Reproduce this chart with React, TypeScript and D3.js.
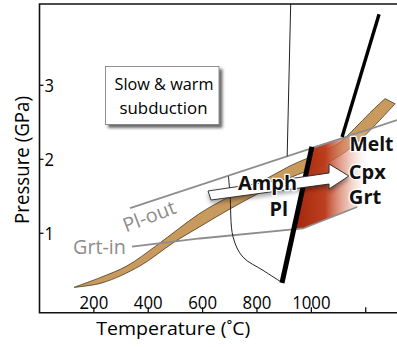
import React from "react";
import * as d3 from "d3";

const W = 397;
const H = 347;
const PLOT = { left: 39.5, right: 397, top: 4, bottom: 312.7 };

// Axis ticks
const tempTicks = [200, 400, 600, 800, 1000, 1200];
const tempTickLabels = ["200", "400", "600", "800", "1000", ""];
const pressureTicks = [1, 2, 3];
const pressureTickLabels = ["1", "2", "3"];

// Slab-top geotherm band (T °C, P GPa)
const geothermUpper: [number, number][] = [
  [127, 0.27], [222, 0.4], [322, 0.56], [432, 0.84], [590, 1.27], [701, 1.5],
  [811, 1.69], [921, 1.91], [1032, 2.09], [1105, 2.23], [1160, 2.42], [1216, 2.63], [1271, 2.82],
];
const geothermLower: [number, number][] = [
  [127, 0.27], [230, 0.33], [370, 0.56], [491, 0.87], [590, 1.09], [701, 1.33],
  [811, 1.55], [921, 1.75], [1032, 1.91], [1105, 2.05], [1179, 2.26], [1252, 2.53], [1308, 2.75],
];

// Reaction lines
const plOut: [number, number][] = [[333, 1.34], [1315, 2.53]];
const grtIn: [number, number][] = [[340, 0.82], [590, 0.93], [969, 1.065], [1168, 1.355]];

// Melt zone (Melt + Cpx + Grt)
const meltZone: [number, number][] = [
  [999, 2.16], [1223, 2.42], [1172, 1.355], [969, 1.065], [943, 1.05],
];

// Solidi
const wetSolidusHigh: [number, number][] = [[1249, 3.96], [1113, 2.3]];
const wetSolidusLow: [number, number][] = [[1002, 2.17], [892, 0.33]];
const thinVertical: [number, number][] = [[924, 4.1], [911, 2.04]];
const amphBoundary: [number, number][] = [
  [695, 1.77], [701, 1.52], [712, 0.95], [748, 0.68], [822, 0.5], [892, 0.335],
];

// P-T path arrow
const pathArrow: [number, number][] = [
  [620, 1.572], [631, 1.45], [1065, 1.666], [1065, 1.599], [1138, 1.774], [1065, 1.937], [1065, 1.815],
];

const FONT = "'Open Sans', 'Noto Sans', sans-serif";

export default function App() {
  const x = d3.scaleLinear().domain([0, 1315]).range([PLOT.left, PLOT.right]);
  const y = d3.scaleLinear().domain([0, 4]).range([307.3, 11.3]);

  const line = d3.line<[number, number]>().x((d) => x(d[0])).y((d) => y(d[1]));
  const curve = d3
    .line<[number, number]>()
    .x((d) => x(d[0]))
    .y((d) => y(d[1]))
    .curve(d3.curveCatmullRom.alpha(0.5));

  const upperPath = curve(geothermUpper) || "";
  const lowerPath = curve([...geothermLower].reverse()) || "";
  const bandPath = upperPath + "L" + lowerPath.slice(1) + "Z";

  const meltPath = line(meltZone) + "Z";
  const arrowPath = line(pathArrow) + "Z";

  const gray = "#8d8d8d";
  const fit = { lengthAdjust: "spacingAndGlyphs" as const };

  return (
    <svg
      width={W}
      height={H}
      style={{ position: "absolute", left: 0, top: 0, background: "#fff" }}
      fontFamily={FONT}
    >
      <defs>
        <linearGradient id="meltGrad" gradientUnits="userSpaceOnUse" x1={300} y1={0} x2={372} y2={0}>
          <stop offset="0" stopColor="#a82b0f" stopOpacity={1} />
          <stop offset="0.35" stopColor="#bb3a1a" stopOpacity={0.97} />
          <stop offset="0.65" stopColor="#e0907a" stopOpacity={0.6} />
          <stop offset="1" stopColor="#ffffff" stopOpacity={0} />
        </linearGradient>
        <filter id="boxShadow" x="-20%" y="-20%" width="150%" height="160%">
          <feDropShadow dx={3} dy={3} stdDeviation={1.6} floodColor="#000" floodOpacity={0.6} />
        </filter>
        <filter id="arrowShadow" x="-20%" y="-50%" width="140%" height="250%">
          <feDropShadow dx={0} dy={3} stdDeviation={2.2} floodColor="#000" floodOpacity={0.35} />
        </filter>
      </defs>

      {/* Geotherm band */}
      <path d={bandPath} fill="#c99a5e" stroke="#4a3820" strokeWidth={0.8} />

      {/* Melt zone */}
      <path d={meltPath} fill="url(#meltGrad)" />

      {/* Reaction lines */}
      <path d={line(plOut) || ""} fill="none" stroke={gray} strokeWidth={1.8} />
      <path d={line(grtIn) || ""} fill="none" stroke={gray} strokeWidth={1.8} />

      {/* Thin lines */}
      <path d={line(thinVertical) || ""} fill="none" stroke="#222" strokeWidth={1} />
      <path d={curve(amphBoundary) || ""} fill="none" stroke="#222" strokeWidth={1} />

      {/* Thick solidi */}
      <path d={line(wetSolidusHigh) || ""} fill="none" stroke="#000" strokeWidth={3.4} />
      <path d={line(wetSolidusLow) || ""} fill="none" stroke="#000" strokeWidth={5} />

      {/* Arrow */}
      <path d={arrowPath} fill="#fff" stroke="#222" strokeWidth={0.9} filter="url(#arrowShadow)" />

      {/* Frame / axes */}
      <path
        d={`M${PLOT.right},${PLOT.top}H${PLOT.left}V${PLOT.bottom}H${PLOT.right}`}
        fill="none"
        stroke="#111"
        strokeWidth={1.6}
      />
      {tempTicks.map((t, i) => (
        <g key={"xt" + t}>
          <line x1={x(t)} x2={x(t)} y1={PLOT.bottom} y2={PLOT.bottom - 5.5} stroke="#111" strokeWidth={1.3} />
          {tempTickLabels[i] && (
            <text
              x={x(t)}
              y={309}
              textAnchor="middle"
              fontSize={18}
              textLength={tempTickLabels[i].length * 9.6}
              {...fit}
            >
              {tempTickLabels[i]}
            </text>
          )}
        </g>
      ))}
      {pressureTicks.map((p, i) => (
        <g key={"yt" + p}>
          <line x1={PLOT.left} x2={PLOT.left + 4} y1={y(p)} y2={y(p)} stroke="#111" strokeWidth={1.3} />
          <text x={44.5} y={y(p) + 6.5} fontSize={18} textLength={9.5} {...fit}>
            {pressureTickLabels[i]}
          </text>
        </g>
      ))}

      <text x={173.3} y={334.5} textAnchor="middle" fontSize={18.5} textLength={154} {...fit}>
        Temperature (˚C)
      </text>
      <text
        transform="translate(28.5,160) rotate(-90)"
        textAnchor="middle"
        fontSize={20}
        textLength={128}
        {...fit}
      >
        Pressure (GPa)
      </text>

      {/* Gray labels */}
      <text x={73} y={253.5} fontSize={19.5} fill={gray} textLength={53} {...fit}>
        Grt-in
      </text>
      <text transform="translate(126,232.5) rotate(-21)" fontSize={19.5} fill={gray} textLength={55} {...fit}>
        Pl-out
      </text>

      {/* Box */}
      <rect x={105.5} y={66.5} width={113.5} height={58} fill="#fff" stroke="#777" strokeWidth={0.8} filter="url(#boxShadow)" />
      <text x={164} y={90} textAnchor="middle" fontSize={17.2} textLength={99} {...fit}>
        Slow &amp; warm
      </text>
      <text x={163.5} y={113.5} textAnchor="middle" fontSize={17.2} textLength={88} {...fit}>
        subduction
      </text>

      {/* Assemblage labels */}
      <g fontWeight="bold" fontSize={19} fill="#111" stroke="#fff" strokeWidth={2.5} paintOrder="stroke" strokeLinejoin="round">
        <text x={267.5} y={189.5} textAnchor="middle" textLength={59} {...fit}>Amph</text>
        <text x={278.7} y={215.5} textAnchor="middle" textLength={18.5} {...fit}>Pl</text>
        <text x={349.5} y={151} textLength={44} {...fit}>Melt</text>
        <text x={348.8} y={178.5} textLength={37} {...fit}>Cpx</text>
        <text x={348.8} y={204.3} textLength={32.5} {...fit}>Grt</text>
      </g>
    </svg>
  );
}
